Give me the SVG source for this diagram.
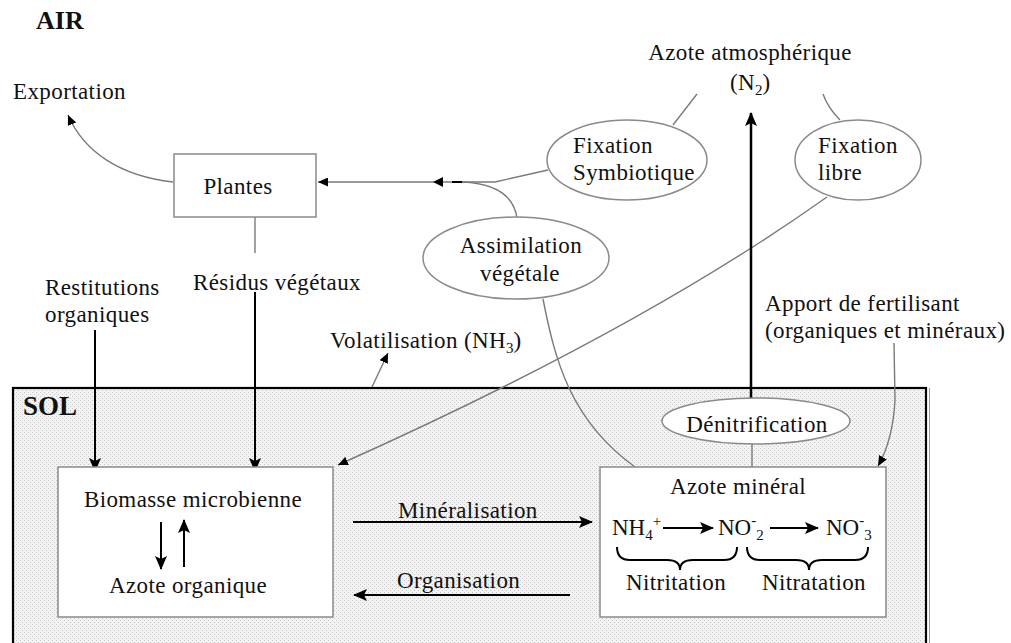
<svg xmlns="http://www.w3.org/2000/svg" width="1011" height="643" viewBox="0 0 1011 643" font-family="'Liberation Serif', 'Times New Roman', Times, 'DejaVu Serif', serif">
<style>
text{font-family:"Liberation Serif","Times New Roman",Times,"DejaVu Serif",serif;font-size:23px;letter-spacing:0.4px;fill:#111}
.b{font-weight:bold;letter-spacing:0}
.sub{font-size:15px;letter-spacing:0}
.c{stroke:#7a7a7a;stroke-width:1.4;fill:none}
.k{stroke:#000;stroke-width:2;fill:none}
.node{fill:#fff;stroke:#8a8a8a;stroke-width:1.5}
.ell{fill:#fff;stroke:#8a8a8a;stroke-width:1.5}
</style>
<defs>
<pattern id="dots" width="4" height="4" patternUnits="userSpaceOnUse">
<rect width="4" height="4" fill="#f3f3f3"/>
<rect x="0" y="0" width="1" height="1" fill="#c8c8c8"/>
<rect x="2" y="2" width="1" height="1" fill="#c8c8c8"/>
</pattern>
<marker id="ah" markerUnits="userSpaceOnUse" markerWidth="14" markerHeight="12" refX="13" refY="6" orient="auto">
<path d="M0,0 L14,6 L0,12 L3,6 z" fill="#000"/>
</marker>
<marker id="as" markerUnits="userSpaceOnUse" markerWidth="10" markerHeight="9" refX="10" refY="4.5" orient="auto">
<path d="M0,0 L10,4.5 L0,9 z" fill="#000"/>
</marker>
</defs>
<rect width="1011" height="643" fill="#fff"/>

<text class="b" x="36" y="29" style="font-size:26px">AIR</text>

<g id="sol">
<rect x="13" y="388" width="913" height="262" fill="url(#dots)" stroke="#000" stroke-width="2.2"/>
<line x1="929.5" y1="388" x2="929.5" y2="643" stroke="#999" stroke-width="1"/>
<text class="b" x="23" y="415" style="font-size:27px">SOL</text>
</g>

<g id="connectors">
<path class="c" d="M173,182 C120,176 84,152 68,115" marker-end="url(#as)"/>
<path class="c" d="M548,170 L495,182 L318,182" marker-end="url(#as)"/>
<path d="M433,182 L443,177 L443,187 z" fill="#000"/>
<line x1="452" y1="182" x2="462" y2="182" stroke="#000" stroke-width="2"/>
<path class="c" d="M462,182 Q512,184 517,218"/>
<path class="c" d="M673,125 L697,94"/>
<path class="c" d="M840,120 Q828,108 823,94"/>
<path class="c" d="M255,217 L255,253"/>
<path class="c" d="M827,197 Q640,330 338,465" marker-end="url(#as)"/>
<path class="c" d="M543,299 C555,360 570,420 635,467"/>
<path class="c" d="M894,343 L895,400 Q893,440 878,466" marker-end="url(#as)"/>
<path class="c" d="M372,387 L388,353" marker-end="url(#as)"/>
<path class="c" d="M752,444 L752,467"/>
<path d="M751,398 L751,113" stroke="#000" stroke-width="2.5" fill="none" marker-end="url(#ah)"/>
<path class="k" d="M95,330 L95,471" marker-end="url(#ah)"/>
<path class="k" d="M255,292 L255,471" marker-end="url(#ah)"/>
<path class="k" d="M353,522 L592,522" marker-end="url(#ah)"/>
<path class="k" d="M570,595 L354,595" marker-end="url(#ah)"/>
</g>

<g id="labels">
<text x="13" y="99">Exportation</text>
<text x="750" y="60" text-anchor="middle">Azote atmosphérique</text>
<text x="730" y="90" fill="#333">(N<tspan class="sub" dy="5">2</tspan><tspan dy="-5">)</tspan></text>
<text x="45" y="295">Restitutions</text>
<text x="45" y="322">organiques</text>
<text x="193" y="290">Résidus végétaux</text>
<text x="330" y="348">Volatilisation (NH<tspan class="sub" dy="5">3</tspan><tspan dy="-5">)</tspan></text>
<text x="765" y="311">Apport de fertilisant</text>
<text x="765" y="338">(organiques et minéraux)</text>
<text x="398" y="518">Minéralisation</text>
<text x="397" y="588">Organisation</text>
</g>

<g id="plantes">
<rect class="node" x="174" y="154" width="142" height="63"/>
<text x="238" y="194" text-anchor="middle">Plantes</text>
</g>

<g id="fixation-symbiotique">
<ellipse class="ell" cx="627" cy="160" rx="80" ry="40"/>
<text x="573" y="153">Fixation</text>
<text x="573" y="180">Symbiotique</text>
</g>

<g id="fixation-libre">
<ellipse class="ell" cx="858" cy="160" rx="63" ry="40"/>
<text x="818" y="153">Fixation</text>
<text x="818" y="180">libre</text>
</g>

<g id="assimilation">
<ellipse class="ell" cx="516" cy="258" rx="93" ry="41"/>
<text x="521" y="253" text-anchor="middle">Assimilation</text>
<text x="520" y="281" text-anchor="middle">végétale</text>
</g>

<g id="denitrification">
<ellipse class="ell" cx="756" cy="421" rx="94" ry="23"/>
<text x="757" y="432" text-anchor="middle">Dénitrification</text>
</g>

<g id="biomasse">
<rect class="node" x="58" y="467" width="275" height="150"/>
<text x="193" y="507" text-anchor="middle">Biomasse microbienne</text>
<path class="k" d="M161,522 L161,569" marker-end="url(#ah)"/>
<path class="k" d="M184,567 L184,520" marker-end="url(#ah)"/>
<text x="188" y="593" text-anchor="middle">Azote organique</text>
</g>

<g id="azote-mineral">
<rect class="node" x="600" y="467" width="286" height="150"/>
<text x="738" y="494" text-anchor="middle">Azote minéral</text>
<text x="612" y="535" style="letter-spacing:0">NH<tspan class="sub" dy="5">4</tspan><tspan class="sub" dy="-14">+</tspan></text>
<path class="k" d="M663,528 L713,528" marker-end="url(#ah)"/>
<text x="718" y="535" style="letter-spacing:0">NO<tspan class="sub" dy="-10">-</tspan><tspan class="sub" dy="15">2</tspan></text>
<path class="k" d="M770,528 L818,528" marker-end="url(#ah)"/>
<text x="826" y="535" style="letter-spacing:0">NO<tspan class="sub" dy="-10">-</tspan><tspan class="sub" dy="15">3</tspan></text>
<path class="k" d="M617,547 Q617,560 630,560 L667,560 Q680,560 680,570 Q680,560 693,560 L724,560 Q737,560 737,547"/>
<path class="k" d="M747,547 Q747,560 760,560 L796,560 Q809,560 809,570 Q809,560 822,560 L855,560 Q868,560 868,547"/>
<text x="676" y="590" text-anchor="middle">Nitritation</text>
<text x="814" y="590" text-anchor="middle">Nitratation</text>
</g>
</svg>
